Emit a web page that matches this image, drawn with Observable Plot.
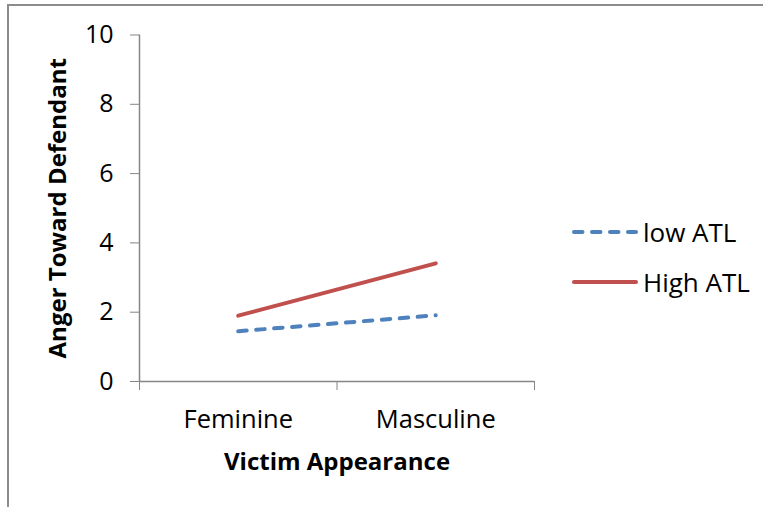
<!DOCTYPE html>
<html>
<head>
<meta charset="utf-8">
<script src="https://cdn.jsdelivr.net/npm/d3@7"></script>
<script src="https://cdn.jsdelivr.net/npm/@observablehq/plot@0.6"></script>
<style>
  body { margin: 0; background: white; }
  #wrap { position: relative; width: 763px; height: 507px; overflow: hidden; background: white; }
  #chart { position: absolute; left: 0; top: 0; z-index: 1; }
  #frame { position: absolute; left: 7px; top: 4px; width: 760px; height: 510px; border-top: 2px solid #8c8c8c; border-left: 2px solid #8c8c8c; pointer-events: none; z-index: 5; }
  #legend { position: absolute; left: 572px; top: 214px; z-index: 3; font-family: "Open Sans", sans-serif; font-size: 26px; line-height: 36px; white-space: nowrap; }
  .item { display: flex; align-items: center; height: 36px; margin-bottom: 14px; }
  .item svg { display: block; margin-right: 5px; }
</style>
</head>
<body>
<div id="wrap">
  <div id="chart"></div>
  <div id="legend"></div>
  <div id="frame"></div>
</div>
<script>
const categories = ["Feminine", "Masculine"];
const seriesNames = ["low ATL", "High ATL"];
const lowATL = [1.45, 1.91];
const highATL = [1.90, 3.41];
const yTicks = [0, 2, 4, 6, 8, 10];
const colors = ["#4F81BD", "#C0504D"];
const dashes = ["8.5,9.5", null];

const seriesValues = [lowATL, highATL];
const rows = [];
seriesNames.forEach((s, si) => {
  categories.forEach((c, ci) => rows.push({series: s, cat: c, pos: ci + 0.5, value: seriesValues[si][ci]}));
});

const axisGray = "#868686";
const font = "'Open Sans', sans-serif";

const plot = Plot.plot({
  width: 763,
  height: 507,
  marginLeft: 139,
  marginRight: 229,
  marginTop: 34.5,
  marginBottom: 126,
  style: {fontFamily: font, fontSize: "25px", color: "black", background: "white"},
  x: {domain: [0, categories.length], axis: null},
  y: {domain: [0, 10], axis: null},
  marks: [
    Plot.axisY({ticks: yTicks, tickSize: 9, tickPadding: 17, stroke: axisGray, fill: "black", label: null, fontSize: 25}),
    Plot.axisX({ticks: d3.range(categories.length + 1), tickSize: 9, tickFormat: () => "", stroke: axisGray, label: null}),
    Plot.ruleX([0], {y1: 0, y2: 10, stroke: axisGray, strokeWidth: 1.5}),
    Plot.ruleY([0], {x1: 0, x2: categories.length, stroke: axisGray, strokeWidth: 1.5}),
    Plot.text(categories, {x: (d, i) => i + 0.5, frameAnchor: "bottom", lineAnchor: "middle", dy: 38, text: d => d, fill: "black", fontSize: 25.5}),
    Plot.text(["Victim Appearance"], {frameAnchor: "bottom", lineAnchor: "middle", dy: 81, fontWeight: "bold", fill: "black", fontSize: 24}),
    Plot.text(["Anger Toward Defendant"], {frameAnchor: "left", textAnchor: "middle", lineAnchor: "middle", dx: -81, rotate: -90, fontWeight: "bold", fill: "black", fontSize: 24}),
    ...seriesNames.map((s, si) =>
      Plot.lineY(rows.filter(r => r.series === s), {
        x: "pos", y: "value", stroke: colors[si], strokeWidth: 4,
        strokeDasharray: dashes[si], strokeLinecap: "round"
      })
    )
  ]
});
document.getElementById("chart").appendChild(plot);

// Legend (HTML)
const legend = d3.select("#legend");
seriesNames.forEach((s, si) => {
  const item = legend.append("div").attr("class", "item");
  const sw = item.append("svg").attr("width", 66).attr("height", 8);
  sw.append("line").attr("x1", 2).attr("x2", 64).attr("y1", 4).attr("y2", 4)
    .attr("stroke", colors[si]).attr("stroke-width", 4).attr("stroke-linecap", "round")
    .attr("stroke-dasharray", dashes[si]);
  item.append("span").text(s);
});
</script>
</body>
</html>
